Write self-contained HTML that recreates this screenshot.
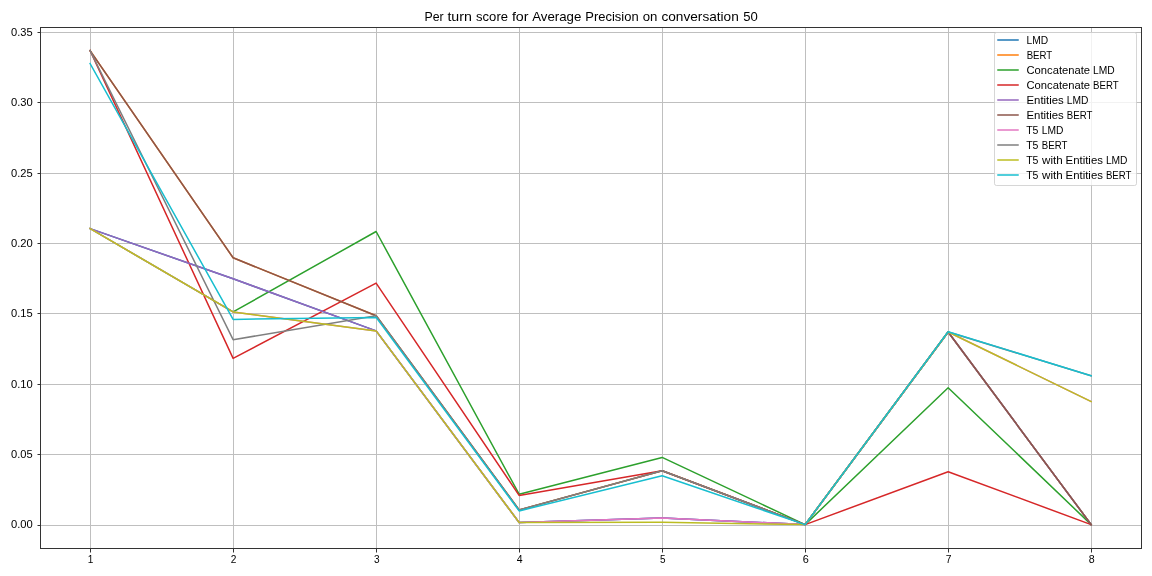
<!DOCTYPE html><html><head><meta charset="utf-8"><style>html,body{margin:0;padding:0;background:#fff;width:1152px;height:576px;overflow:hidden}svg{display:block}.tx{will-change:transform}text{font-family:"Liberation Sans",sans-serif;fill:#000}</style></head><body>
<svg width="1152" height="576" viewBox="0 0 1152 576">
<rect x="0" y="0" width="1152" height="576" fill="#fff"/>
<defs><clipPath id="ax"><rect x="40.05" y="26.8" width="1101.15" height="521.4"/></clipPath></defs>
<g><rect x="90" y="27" width="1" height="521" fill="#bfbfbf"/><rect x="233" y="27" width="1" height="521" fill="#bfbfbf"/><rect x="376" y="27" width="1" height="521" fill="#bfbfbf"/><rect x="519" y="27" width="1" height="521" fill="#bfbfbf"/><rect x="662" y="27" width="1" height="521" fill="#bfbfbf"/><rect x="805" y="27" width="1" height="521" fill="#bfbfbf"/><rect x="948" y="27" width="1" height="521" fill="#bfbfbf"/><rect x="1091" y="27" width="1" height="521" fill="#bfbfbf"/><rect x="40" y="32" width="1101" height="1" fill="#bfbfbf"/><rect x="40" y="102" width="1101" height="1" fill="#bfbfbf"/><rect x="40" y="173" width="1101" height="1" fill="#bfbfbf"/><rect x="40" y="243" width="1101" height="1" fill="#bfbfbf"/><rect x="40" y="313" width="1101" height="1" fill="#bfbfbf"/><rect x="40" y="384" width="1101" height="1" fill="#bfbfbf"/><rect x="40" y="454" width="1101" height="1" fill="#bfbfbf"/><rect x="40" y="525" width="1101" height="1" fill="#bfbfbf"/></g>
<g clip-path="url(#ax)"><polyline points="90.10,228.60 233.11,278.80 376.12,330.90 519.12,522.50 662.13,517.90 805.13,524.60 948.14,332.00 1091.15,524.60" fill="none" stroke="#1f77b4" stroke-width="1.5" stroke-linejoin="round" stroke-linecap="square"/><polyline points="90.10,50.60 233.11,257.80 376.12,315.80 519.12,509.90 662.13,470.80 805.13,524.60 948.14,332.00 1091.15,524.60" fill="none" stroke="#ff7f0e" stroke-width="1.5" stroke-linejoin="round" stroke-linecap="square"/><polyline points="90.10,228.60 233.11,311.90 376.12,231.50 519.12,494.20 662.13,457.40 805.13,524.60 948.14,387.70 1091.15,524.60" fill="none" stroke="#2ca02c" stroke-width="1.5" stroke-linejoin="round" stroke-linecap="square"/><polyline points="90.10,50.60 233.11,358.40 376.12,283.10 519.12,495.40 662.13,470.80 805.13,524.60 948.14,471.70 1091.15,524.60" fill="none" stroke="#d62728" stroke-width="1.5" stroke-linejoin="round" stroke-linecap="square"/><polyline points="90.10,228.60 233.11,278.80 376.12,330.90 519.12,522.50 662.13,517.90 805.13,524.60 948.14,332.00 1091.15,524.60" fill="none" stroke="#9467bd" stroke-width="1.5" stroke-linejoin="round" stroke-linecap="square"/><polyline points="90.10,50.60 233.11,257.80 376.12,315.80 519.12,509.90 662.13,470.80 805.13,524.60 948.14,332.00 1091.15,524.60" fill="none" stroke="#8c564b" stroke-width="1.5" stroke-linejoin="round" stroke-linecap="square"/><polyline points="90.10,228.60 233.11,311.90 376.12,330.90 519.12,522.50 662.13,517.90 805.13,524.60 948.14,332.00 1091.15,401.50" fill="none" stroke="#e377c2" stroke-width="1.5" stroke-linejoin="round" stroke-linecap="square"/><polyline points="90.10,50.60 233.11,339.70 376.12,315.80 519.12,509.90 662.13,470.80 805.13,524.60 948.14,332.00 1091.15,375.80" fill="none" stroke="#7f7f7f" stroke-width="1.5" stroke-linejoin="round" stroke-linecap="square"/><polyline points="90.10,228.60 233.11,311.90 376.12,330.90 519.12,522.50 662.13,522.30 805.13,524.60 948.14,332.00 1091.15,401.50" fill="none" stroke="#bcbd22" stroke-width="1.5" stroke-linejoin="round" stroke-linecap="square"/><polyline points="90.10,63.60 233.11,319.40 376.12,317.40 519.12,510.90 662.13,475.80 805.13,524.60 948.14,331.70 1091.15,375.80" fill="none" stroke="#17becf" stroke-width="1.5" stroke-linejoin="round" stroke-linecap="square"/></g>
<g fill="#333">
<rect x="40" y="27" width="1" height="522"/><rect x="1141" y="27" width="1" height="522"/>
<rect x="40" y="27" width="1102" height="1"/><rect x="40" y="548" width="1102" height="1"/>
<rect x="90" y="549" width="1" height="3.5"/>
<rect x="233" y="549" width="1" height="3.5"/>
<rect x="376" y="549" width="1" height="3.5"/>
<rect x="519" y="549" width="1" height="3.5"/>
<rect x="662" y="549" width="1" height="3.5"/>
<rect x="805" y="549" width="1" height="3.5"/>
<rect x="948" y="549" width="1" height="3.5"/>
<rect x="1091" y="549" width="1" height="3.5"/>
<rect x="37.5" y="32" width="3" height="1"/>
<rect x="37.5" y="102" width="3" height="1"/>
<rect x="37.5" y="173" width="3" height="1"/>
<rect x="37.5" y="243" width="3" height="1"/>
<rect x="37.5" y="313" width="3" height="1"/>
<rect x="37.5" y="384" width="3" height="1"/>
<rect x="37.5" y="454" width="3" height="1"/>
<rect x="37.5" y="525" width="3" height="1"/>
</g>
<g class="tx"><text x="11.01" y="35.72" font-size="10.6" textLength="21.63" lengthAdjust="spacingAndGlyphs">0.35</text><text x="11.01" y="106.11" font-size="10.6" textLength="21.82" lengthAdjust="spacingAndGlyphs">0.30</text><text x="11.01" y="176.50" font-size="10.6" textLength="21.63" lengthAdjust="spacingAndGlyphs">0.25</text><text x="11.01" y="246.89" font-size="10.6" textLength="21.82" lengthAdjust="spacingAndGlyphs">0.20</text><text x="11.01" y="317.28" font-size="10.6" textLength="21.63" lengthAdjust="spacingAndGlyphs">0.15</text><text x="11.01" y="387.67" font-size="10.6" textLength="21.82" lengthAdjust="spacingAndGlyphs">0.10</text><text x="11.01" y="458.06" font-size="10.6" textLength="21.63" lengthAdjust="spacingAndGlyphs">0.05</text><text x="11.01" y="528.45" font-size="10.6" textLength="21.82" lengthAdjust="spacingAndGlyphs">0.00</text><text x="87.85" y="562.90" font-size="10.6" textLength="5.60" lengthAdjust="spacingAndGlyphs">1</text><text x="230.75" y="562.90" font-size="10.6" textLength="5.65" lengthAdjust="spacingAndGlyphs">2</text><text x="373.91" y="562.90" font-size="10.6" textLength="5.63" lengthAdjust="spacingAndGlyphs">3</text><text x="516.79" y="562.90" font-size="10.6" textLength="5.86" lengthAdjust="spacingAndGlyphs">4</text><text x="659.92" y="562.90" font-size="10.6" textLength="5.53" lengthAdjust="spacingAndGlyphs">5</text><text x="802.70" y="562.90" font-size="10.6" textLength="6.07" lengthAdjust="spacingAndGlyphs">6</text><text x="945.85" y="562.90" font-size="10.6" textLength="5.73" lengthAdjust="spacingAndGlyphs">7</text><text x="1088.78" y="562.90" font-size="10.6" textLength="5.93" lengthAdjust="spacingAndGlyphs">8</text><text x="424.57" y="20.60" font-size="12.6" textLength="19.16" lengthAdjust="spacingAndGlyphs">Per</text><text x="447.45" y="20.60" font-size="12.6" textLength="24.43" lengthAdjust="spacingAndGlyphs">turn</text><text x="476.08" y="20.60" font-size="12.6" textLength="31.90" lengthAdjust="spacingAndGlyphs">score</text><text x="511.92" y="20.60" font-size="12.6" textLength="16.66" lengthAdjust="spacingAndGlyphs">for</text><text x="532.23" y="20.60" font-size="12.6" textLength="49.16" lengthAdjust="spacingAndGlyphs">Average</text><text x="585.37" y="20.60" font-size="12.6" textLength="53.25" lengthAdjust="spacingAndGlyphs">Precision</text><text x="642.72" y="20.60" font-size="12.6" textLength="14.68" lengthAdjust="spacingAndGlyphs">on</text><text x="661.46" y="20.60" font-size="12.6" textLength="77.34" lengthAdjust="spacingAndGlyphs">conversation</text><text x="743.15" y="20.60" font-size="12.6" textLength="14.58" lengthAdjust="spacingAndGlyphs">50</text></g>
<path d="M996.5,32.5 H1134.5 Q1136.5,32.5 1136.5,34.5 V183.5 Q1136.5,185.5 1134.5,185.5 H996.5 Q994.5,185.5 994.5,183.5 V34.5 Q994.5,32.5 996.5,32.5 Z" fill="#fff" fill-opacity="0.8" stroke="#ccc" stroke-opacity="0.8" stroke-width="1"/>
<rect x="997.25" y="39" width="21.5" height="2" fill="#1f77b4" fill-opacity="0.75"/>
<g class="tx"><text x="1026.59" y="43.90" font-size="10.5" textLength="21.66" lengthAdjust="spacingAndGlyphs">LMD</text></g>
<rect x="997.25" y="54" width="21.5" height="2" fill="#ff7f0e" fill-opacity="0.75"/>
<g class="tx"><text x="1026.64" y="58.90" font-size="10.5" textLength="25.57" lengthAdjust="spacingAndGlyphs">BERT</text></g>
<rect x="997.25" y="69" width="21.5" height="2" fill="#2ca02c" fill-opacity="0.75"/>
<g class="tx"><text x="1026.44" y="73.90" font-size="10.5" textLength="63.65" lengthAdjust="spacingAndGlyphs">Concatenate</text><text x="1093.00" y="73.90" font-size="10.5" textLength="21.66" lengthAdjust="spacingAndGlyphs">LMD</text></g>
<rect x="997.25" y="84" width="21.5" height="2" fill="#d62728" fill-opacity="0.75"/>
<g class="tx"><text x="1026.44" y="88.90" font-size="10.5" textLength="63.65" lengthAdjust="spacingAndGlyphs">Concatenate</text><text x="1093.05" y="88.90" font-size="10.5" textLength="25.57" lengthAdjust="spacingAndGlyphs">BERT</text></g>
<rect x="997.25" y="99" width="21.5" height="2" fill="#9467bd" fill-opacity="0.75"/>
<g class="tx"><text x="1026.50" y="103.90" font-size="10.5" textLength="37.29" lengthAdjust="spacingAndGlyphs">Entities</text><text x="1066.74" y="103.90" font-size="10.5" textLength="21.66" lengthAdjust="spacingAndGlyphs">LMD</text></g>
<rect x="997.25" y="114" width="21.5" height="2" fill="#8c564b" fill-opacity="0.75"/>
<g class="tx"><text x="1026.50" y="118.90" font-size="10.5" textLength="37.29" lengthAdjust="spacingAndGlyphs">Entities</text><text x="1066.79" y="118.90" font-size="10.5" textLength="25.57" lengthAdjust="spacingAndGlyphs">BERT</text></g>
<rect x="997.25" y="129" width="21.5" height="2" fill="#e377c2" fill-opacity="0.75"/>
<g class="tx"><text x="1026.18" y="133.90" font-size="10.5" textLength="12.31" lengthAdjust="spacingAndGlyphs">T5</text><text x="1041.79" y="133.90" font-size="10.5" textLength="21.66" lengthAdjust="spacingAndGlyphs">LMD</text></g>
<rect x="997.25" y="144" width="21.5" height="2" fill="#7f7f7f" fill-opacity="0.75"/>
<g class="tx"><text x="1026.18" y="148.90" font-size="10.5" textLength="12.31" lengthAdjust="spacingAndGlyphs">T5</text><text x="1041.84" y="148.90" font-size="10.5" textLength="25.57" lengthAdjust="spacingAndGlyphs">BERT</text></g>
<rect x="997.25" y="159" width="21.5" height="2" fill="#bcbd22" fill-opacity="0.75"/>
<g class="tx"><text x="1026.18" y="163.90" font-size="10.5" textLength="12.31" lengthAdjust="spacingAndGlyphs">T5</text><text x="1042.09" y="163.90" font-size="10.5" textLength="20.68" lengthAdjust="spacingAndGlyphs">with</text><text x="1065.64" y="163.90" font-size="10.5" textLength="37.29" lengthAdjust="spacingAndGlyphs">Entities</text><text x="1105.88" y="163.90" font-size="10.5" textLength="21.66" lengthAdjust="spacingAndGlyphs">LMD</text></g>
<rect x="997.25" y="174" width="21.5" height="2" fill="#17becf" fill-opacity="0.75"/>
<g class="tx"><text x="1026.18" y="178.90" font-size="10.5" textLength="12.31" lengthAdjust="spacingAndGlyphs">T5</text><text x="1042.09" y="178.90" font-size="10.5" textLength="20.68" lengthAdjust="spacingAndGlyphs">with</text><text x="1065.64" y="178.90" font-size="10.5" textLength="37.29" lengthAdjust="spacingAndGlyphs">Entities</text><text x="1105.93" y="178.90" font-size="10.5" textLength="25.57" lengthAdjust="spacingAndGlyphs">BERT</text></g>
</svg></body></html>
